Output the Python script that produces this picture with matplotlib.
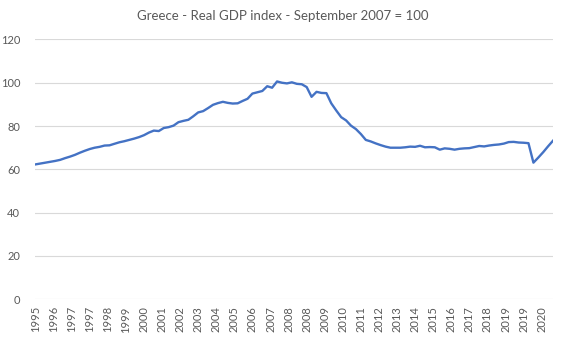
## Greece real GDP index, quarterly, September 2007 = 100

import numpy as np
import pandas as pd
import matplotlib
matplotlib.use('Agg')
import matplotlib.pyplot as plt
import matplotlib.dates as mdates

matplotlib.rcParams['font.family'] = ['Lato', 'DejaVu Sans']

# Data (quarterly, Mar 1995 - Jun 2021)
quarters = pd.date_range('1995-03-01', periods=106, freq='3MS')
gdp_index = [
    62.3, 62.7, 63.1, 63.5, 63.9, 64.4, 65.2, 65.9, 66.7, 67.7,
    68.6, 69.4, 70.0, 70.4, 71.0, 71.1, 71.8, 72.5, 73.0, 73.6,
    74.2, 74.9, 75.8, 77.0, 77.9, 77.7, 79.1, 79.5, 80.2, 81.8,
    82.4, 82.9, 84.5, 86.3, 86.9, 88.3, 89.8, 90.6, 91.2, 90.7,
    90.4, 90.5, 91.6, 92.6, 95.0, 95.6, 96.2, 98.4, 97.7, 100.6,
    100.0, 99.7, 100.2, 99.5, 99.3, 98.0, 93.5, 95.8, 95.3, 95.2,
    90.5, 87.2, 84.1, 82.6, 80.2, 78.6, 76.3, 73.6, 72.9, 72.0,
    71.2, 70.5, 70.0, 70.0, 70.0, 70.2, 70.5, 70.4, 70.9, 70.2,
    70.3, 70.2, 69.1, 69.7, 69.5, 69.1, 69.5, 69.7, 69.8, 70.3,
    70.8, 70.6, 71.0, 71.3, 71.5, 71.9, 72.6, 72.7, 72.4, 72.3,
    72.1, 63.1, 65.5, 68.0, 70.7, 73.3,
]

# Excel date axis labels every 11 months, shown as year
tick_dates = pd.date_range('1995-03-01', periods=29, freq='11MS')
tick_labels = ['1995', '1996', '1997', '1997', '1998', '1999', '2000', '2001',
               '2002', '2003', '2004', '2005', '2006', '2007', '2008', '2008',
               '2009', '2010', '2011', '2012', '2013', '2014', '2015', '2016',
               '2017', '2018', '2019', '2019', '2020']

grey = '#595959'

fig = plt.figure(figsize=(5.65, 3.4), dpi=100)
ax = fig.add_axes([0.0628, 0.1197, 0.9162, 0.7643])

ax.plot(quarters, gdp_index, color='#4472C4', linewidth=1.7, zorder=3)

ax.set_ylim(0, 120)
ax.set_yticks(np.arange(0, 121, 20))
ax.set_xlim(quarters[0], quarters[-1])
ax.set_xticks(tick_dates)
ax.set_xticklabels(tick_labels, rotation=90)

ax.grid(axis='y', color='#D9D9D9', linewidth=0.8, zorder=0)
for s in ax.spines.values():
    s.set_visible(False)
ax.tick_params(axis='both', length=0, labelsize=8, labelcolor=grey)
ax.tick_params(axis='y', pad=11)
ax.tick_params(axis='x', pad=5)

fig.text(0.5, 0.953, 'Greece - Real GDP index - September 2007 = 100',
         fontsize=9.5, color=grey, ha='center', va='center')

plt.savefig('out.png', dpi=100)
